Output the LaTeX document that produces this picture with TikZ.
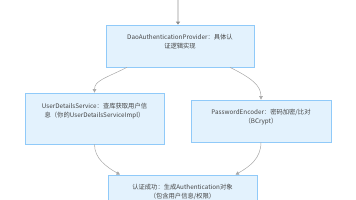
\documentclass[tikz,border=0pt]{standalone}
\usepackage{fontspec}
\setmainfont{Noto Sans CJK SC}
\usetikzlibrary{arrows.meta}
\definecolor{boxfill}{HTML}{E3F2FD}
\definecolor{boxline}{HTML}{90CAF9}
\definecolor{edgecol}{HTML}{A8A8A8}
\definecolor{txt}{HTML}{444444}
\begin{document}
\begin{tikzpicture}[x=1pt,y=-1pt,
  box/.style={draw=boxline,fill=boxfill,line width=0.7pt,inner sep=0pt},
  lbl/.style={text=txt,font=\fontsize{6.3}{9}\selectfont,align=center,anchor=north,inner sep=0pt},
  edge/.style={draw=edgecol,line width=0.5pt,-{Triangle[length=3.5pt,width=3.5pt]}}]
\useasboundingbox (0,0) rectangle (356,200);
\node[box,minimum width=148pt,minimum height=42pt] (top) at (180,46) {};
\node[box,minimum width=139pt,minimum height=51pt] (left) at (94.5,118.5) {};
\node[box,minimum width=140pt,minimum height=42pt] (right) at (261,121) {};
\node[box,minimum width=149pt,minimum height=42pt] (bot) at (182.5,196) {};
\node[lbl] (ttop) at ([yshift=-9pt]top.north) {DaoAuthenticationProvider：具体认\\证逻辑实现};
\node[lbl] (tleft) at ([yshift=-10pt]left.north) {UserDetailsService：查库获取用户信\\息（你的UserDetailsServiceImpl）};
\node[lbl] (tright) at ([yshift=-9pt]right.north) {PasswordEncoder：密码加密/比对\\（BCrypt）};
\node[lbl] (tbot) at ([yshift=-9pt]bot.north) {认证成功：生成Authentication对象\\（包含用户信息/权限）};
\coordinate (src) at (178,0);
\draw[edge,draw=black!15,line width=1.6pt,-{Triangle[length=3pt,width=4pt,color=black!45]}] (src) -- (src |- top.north);
\draw[edge] ([xshift=-53pt]top.south) .. controls +(-22,11) and +(0,-12) .. (left.north);
\draw[edge] ([xshift=50pt]top.south) .. controls +(22,11) and +(0,-14) .. (right.north);
\draw[edge] (left.south) .. controls +(0,14) and +(-14,-8) .. ([xshift=-62.5pt]bot.north);
\draw[edge] (right.south) .. controls +(0,16) and +(14,-8) .. ([xshift=53pt]bot.north);
\end{tikzpicture}
\end{document}
